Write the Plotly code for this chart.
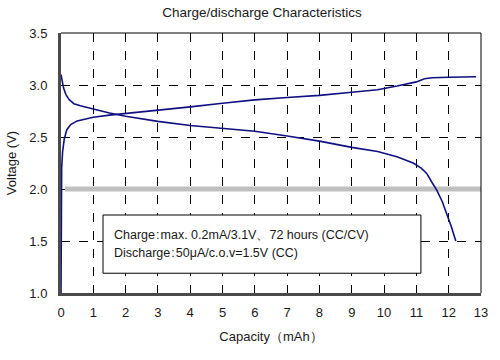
import plotly.graph_objects as go

# Data
charge_cap = [0, 0, 0.02, 0.05, 0.1, 0.18, 0.3, 0.5, 0.8, 1.0, 1.5, 2, 3, 4, 5, 6, 7, 8, 9, 9.8, 10.4, 11.0, 11.25, 11.5, 12, 12.85]
charge_v = [1.0, 2.0, 2.2, 2.36, 2.48, 2.57, 2.62, 2.655, 2.675, 2.69, 2.71, 2.725, 2.76, 2.79, 2.825, 2.857, 2.88, 2.90, 2.93, 2.955, 2.99, 3.03, 3.06, 3.07, 3.075, 3.08]

dis_cap = [0, 0.03, 0.08, 0.15, 0.25, 0.4, 0.6, 1.0, 1.5, 2, 3, 4, 5, 6, 7, 8, 9, 9.8, 10.4, 10.9, 11.15, 11.32, 11.47, 11.63, 11.8, 11.93, 12.08, 12.22]
dis_v = [3.1, 3.04, 2.97, 2.91, 2.86, 2.82, 2.80, 2.77, 2.73, 2.70, 2.65, 2.61, 2.58, 2.555, 2.51, 2.46, 2.40, 2.36, 2.31, 2.25, 2.20, 2.15, 2.07, 1.99, 1.88, 1.77, 1.64, 1.5]

ref_cap = [0.12, 13]
ref_v = [2.0, 2.0]

x_ticks = list(range(0, 14))
y_ticks = [1.0, 1.5, 2.0, 2.5, 3.0, 3.5]
y_tick_labels = ["1.0", "1.5", "2.0", "2.5", "3.0", "3.5"]

note_lines = ["Charge\u200a:\u200amax. 0.2mA/3.1V、72 hours (CC/CV)",
              "Discharge\u200a:\u200a50μA/c.o.v=1.5V (CC)"]

FONT = "Liberation Sans, Arial, sans-serif"
BLUE = "#101080"
TXT = "#1a1a1a"

fig = go.Figure()
fig.add_trace(go.Scatter(x=ref_cap, y=ref_v, mode="lines", cliponaxis=False,
                         line=dict(color="#c0c0c0", width=5), hoverinfo="skip"))
fig.add_trace(go.Scatter(x=charge_cap, y=charge_v, mode="lines", cliponaxis=False,
                         line=dict(color=BLUE, width=1.6)))
fig.add_trace(go.Scatter(x=dis_cap, y=dis_v, mode="lines", cliponaxis=False,
                         line=dict(color=BLUE, width=1.6)))

# frame lines top/right
fig.add_shape(type="line", xref="paper", yref="paper", x0=0, x1=1, y0=1, y1=1,
              line=dict(color="black", width=1))
fig.add_shape(type="line", xref="paper", yref="paper", x0=1, x1=1, y0=0, y1=1,
              line=dict(color="black", width=1))

# annotation box
fig.add_shape(type="rect", xref="x", yref="y", x0=1.30, x1=11.14, y0=1.19, y1=1.75,
              line=dict(color="black", width=1), fillcolor="white", layer="above")
for txt, yv in zip(note_lines, [1.558, 1.385]):
    fig.add_annotation(xref="x", yref="y", x=1.57, y=yv, xanchor="left", yanchor="middle",
                       text=txt, showarrow=False, align="left",
                       font=dict(family=FONT, size=12.5, color=TXT))

fig.update_layout(
    width=500, height=360,
    margin=dict(l=61, r=19, t=33, b=67, autoexpand=False),
    paper_bgcolor="white", plot_bgcolor="white",
    showlegend=False,
    font=dict(family=FONT, size=13, color=TXT),
    title=dict(text="Charge/discharge Characteristics", x=262/500, xanchor="center",
               y=1 - 12/360, yanchor="middle", font=dict(size=13.5, family=FONT)),
    xaxis=dict(range=[0, 13], tickvals=x_ticks, showgrid=True, gridcolor="black",
               griddash="dash", gridwidth=1, zeroline=False, showline=True,
               linecolor="#4a4a4a", linewidth=3, ticks="outside", ticklen=5,
               tickcolor="rgba(0,0,0,0)", automargin=False,
               layer="below traces", tickfont=dict(size=13),
               title=dict(text="Capacity（mAh）", standoff=14, font=dict(size=13))),
    yaxis=dict(range=[1.0, 3.5], tickvals=y_ticks, ticktext=y_tick_labels,
               showgrid=True, gridcolor="black", griddash="dash", gridwidth=1,
               zeroline=False, showline=True, linecolor="#4a4a4a", linewidth=3,
               ticks="outside", ticklen=8, tickcolor="rgba(0,0,0,0)",
               automargin=False, layer="below traces", tickfont=dict(size=13),
               title=dict(text="Voltage (V)", standoff=10, font=dict(size=13))),
)

fig.write_html("out.html", post_script="document.body.style.margin='0';",
               config={"displayModeBar": False})
